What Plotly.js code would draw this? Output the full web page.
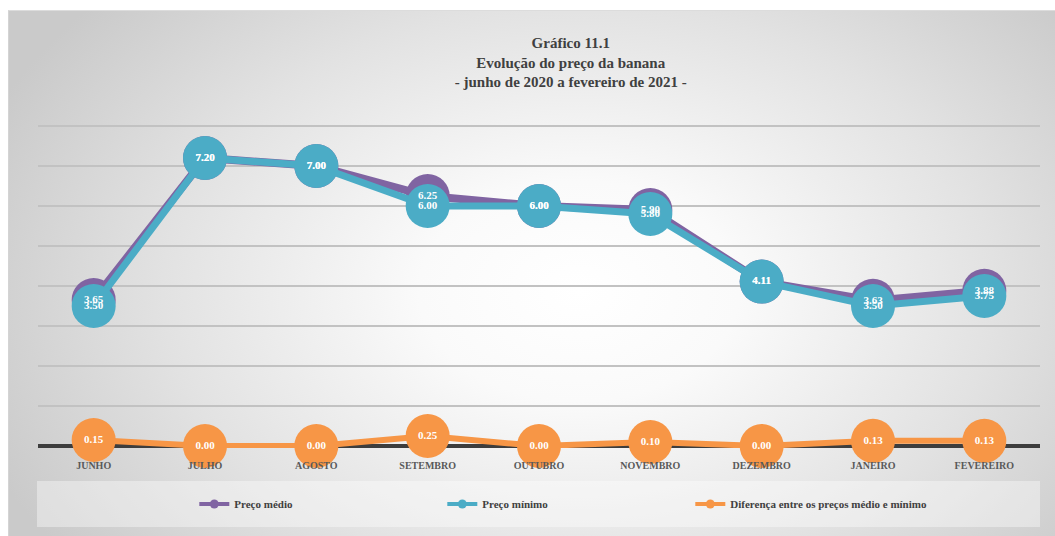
<!DOCTYPE html>
<html>
<head>
<meta charset="utf-8">
<script src="https://cdn.plot.ly/plotly-3.0.1.min.js"></script>
<style>
  html, body { margin: 0; padding: 0; background: #ffffff; }
  #bg { position: absolute; left: 8px; top: 10px; width: 1047px; height: 526px;
        background: radial-gradient(ellipse 640px 440px at 570px 280px, #ffffff 0%, #fafafa 25%, #e2e2e2 65%, #cacaca 100%);
        border-top: 1px solid #dcdcdc; border-left: 1px solid #d4d4d4; }
  #chart { position: absolute; left: 0; top: 0; width: 1055px; height: 536px; }
</style>
</head>
<body>
<div id="bg"></div>
<div id="chart"></div>
<script>
const months = ['JUNHO', 'JULHO', 'AGOSTO', 'SETEMBRO', 'OUTUBRO', 'NOVEMBRO', 'DEZEMBRO', 'JANEIRO', 'FEVEREIRO'];
const precoMedio = [3.65, 7.20, 7.00, 6.25, 6.00, 5.90, 4.11, 3.63, 3.88];
const precoMinimo = [3.50, 7.20, 7.00, 6.00, 6.00, 5.80, 4.11, 3.50, 3.75];
const diferenca = [0.15, 0.00, 0.00, 0.25, 0.00, 0.10, 0.00, 0.13, 0.13];
const seriesNames = ['Preço médio', 'Preço mínimo', 'Diferença entre os preços médio e mínimo'];
const titleLines = ['Gráfico 11.1', 'Evolução do preço da banana', '- junho de 2020 a fevereiro de 2021 -'];

const FONT = '"Liberation Serif", "DejaVu Serif", serif';
const colors = ['#8064a2', '#4bacc6', '#f79646'];
const fmt = v => v.toFixed(2);

function mainTrace(y, color, lw) {
  return { x: months, y: y, type: 'scatter', mode: 'lines+markers', showlegend: false,
    line: { color: color, width: lw }, marker: { color: color, size: 44 },
    cliponaxis: false, hoverinfo: 'skip' };
}
function textTrace(y) {
  return { x: months, y: y, type: 'scatter', mode: 'text', showlegend: false,
    text: y.map(fmt), textposition: 'middle center',
    textfont: { family: FONT, size: 11, color: '#ffffff', weight: 'bold' },
    cliponaxis: false, hoverinfo: 'skip' };
}
function legendTrace(name, color) {
  return { x: [null], y: [null], type: 'scatter', mode: 'lines+markers', name: name,
    line: { color: color, width: 4 }, marker: { color: color, size: 9 } };
}

const data = [
  mainTrace(precoMedio, colors[0], 8),
  mainTrace(precoMinimo, colors[1], 7),
  mainTrace(diferenca, colors[2], 6),
  textTrace(precoMedio),
  textTrace(precoMinimo),
  textTrace(diferenca),
  legendTrace(seriesNames[0], colors[0]),
  legendTrace(seriesNames[1], colors[1]),
  legendTrace(seriesNames[2], colors[2])
];

const layout = {
  width: 1055, height: 536,
  margin: { l: 38, r: 15, t: 124, b: 88, autoexpand: false },
  paper_bgcolor: 'rgba(0,0,0,0)',
  plot_bgcolor: 'rgba(0,0,0,0)',
  font: { family: FONT, color: '#404040' },
  title: { text: titleLines.join('<br>'), xref: 'container', x: 0.541, xanchor: 'center',
    yref: 'container', y: 0.91, yanchor: 'top',
    font: { family: FONT, size: 15, color: '#404040', weight: 'bold' } },
  xaxis: { type: 'category', range: [-0.5, 8.5], showgrid: false, zeroline: false, showline: false,
    ticks: '', ticklabelstandoff: 10,
    tickfont: { family: FONT, size: 10, color: '#595959', weight: 'bold' }, fixedrange: true },
  yaxis: { range: [-0.05, 8.05], dtick: 1, tick0: 0, showticklabels: false, ticks: '',
    gridcolor: '#c2c2c2', gridwidth: 2, zeroline: true, zerolinecolor: '#3d3d3d', zerolinewidth: 4,
    showline: false, fixedrange: true },
  showlegend: true,
  legend: { orientation: 'h', x: 0.156, xanchor: 'left', y: -0.173, yanchor: 'middle',
    bgcolor: 'rgba(0,0,0,0)', entrywidth: 203, entrywidthmode: 'pixels',
    font: { family: FONT, size: 11, color: '#404040', weight: 'bold' } },
  shapes: [
    { type: 'rect', xref: 'paper', yref: 'paper', x0: -0.001, x1: 1.0, y0: -0.244, y1: -0.102,
      fillcolor: 'rgba(255,255,255,0.38)', line: { width: 0 }, layer: 'below' }
  ]
};

Plotly.newPlot('chart', data, layout, { displayModeBar: false, staticPlot: true });
</script>
</body>
</html>
